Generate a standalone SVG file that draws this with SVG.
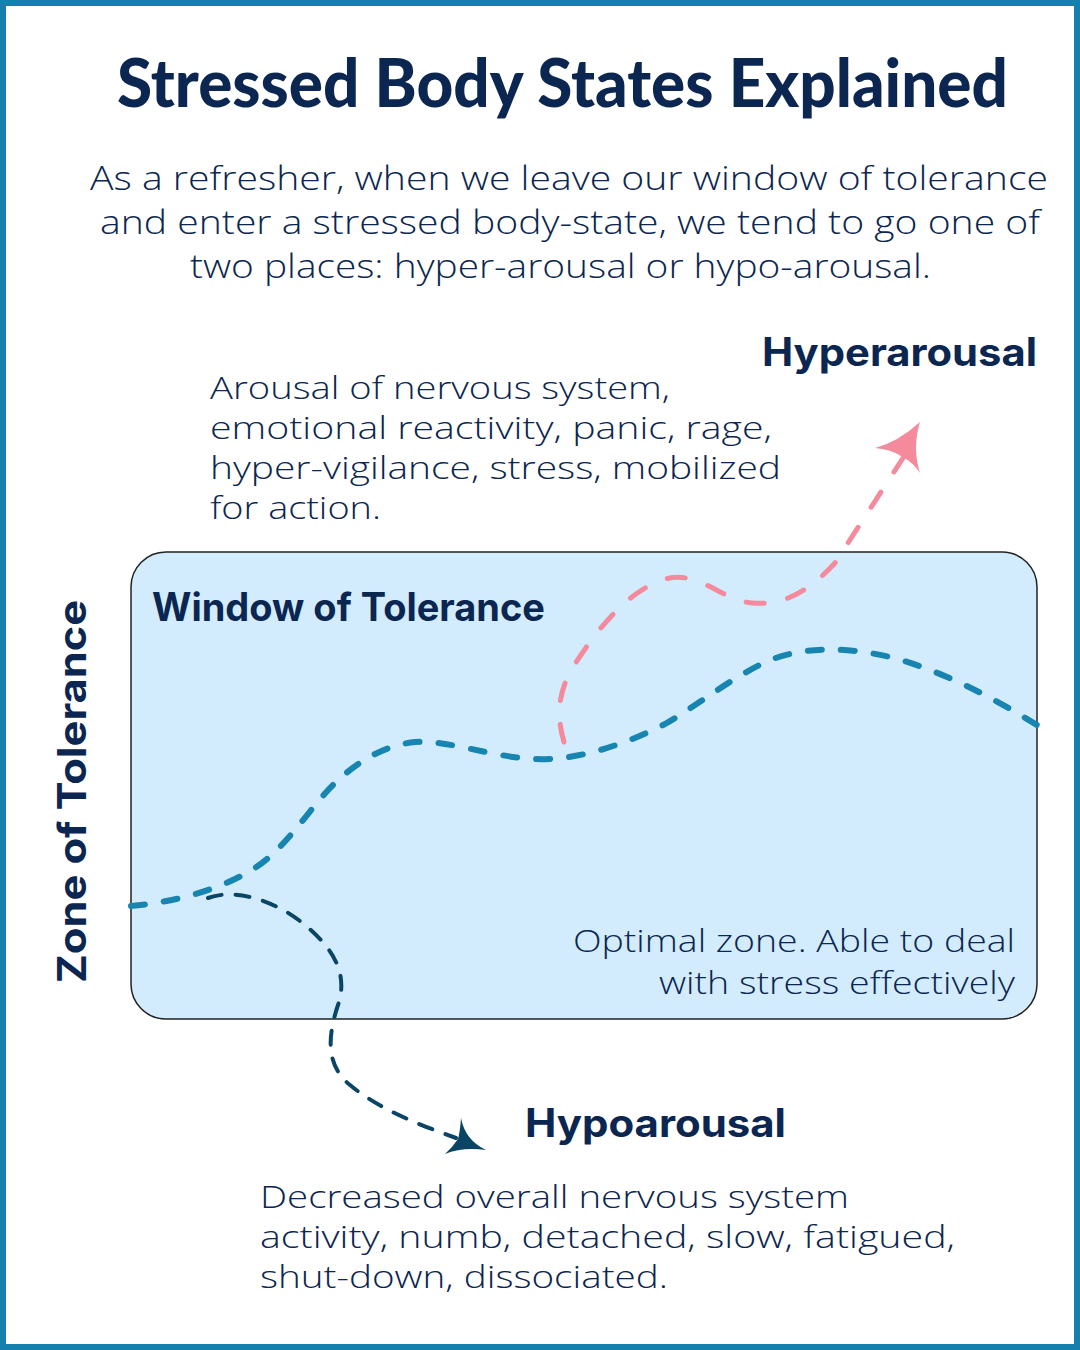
<svg xmlns="http://www.w3.org/2000/svg" width="1080" height="1350" viewBox="0 0 1080 1350">
<style>
.t{fill:#0b2650;font-family:"Open Sans","Liberation Sans",sans-serif;}
.title{font-family:Lato,"Liberation Sans",sans-serif;font-weight:900;font-size:66px;}
.sub{font-size:33px;font-weight:300;}
.body{font-size:31px;font-weight:300;}
.h{font-family:Inter,"Liberation Sans",sans-serif;font-weight:700;font-size:39px;}
.dash{fill:none;stroke-linecap:round;}
</style>
<rect x="3" y="3" width="1074" height="1344" fill="#ffffff" stroke="#1580ad" stroke-width="6"/>
<g id="title"><text class="t title" x="117" y="107" textLength="891" lengthAdjust="spacingAndGlyphs">Stressed Body States Explained</text></g>
<g id="intro">
<text class="t sub" x="90" y="190" textLength="958" lengthAdjust="spacingAndGlyphs">As a refresher, when we leave our window of tolerance</text>
<text class="t sub" x="100" y="234" textLength="940" lengthAdjust="spacingAndGlyphs">and enter a stressed body-state, we tend to go one of</text>
<text class="t sub" x="190" y="278" textLength="741" lengthAdjust="spacingAndGlyphs">two places: hyper-arousal or hypo-arousal.</text>
</g>
<g id="window">
<rect x="131" y="552" width="906" height="467" rx="35" ry="35" fill="#d2ecfd" stroke="#222" stroke-width="1.5"/>
<text class="t h" x="152" y="621" font-size="37" textLength="393" lengthAdjust="spacingAndGlyphs">Window of Tolerance</text>
<text class="t body" x="1015" y="952" font-size="33" text-anchor="end" textLength="442" lengthAdjust="spacingAndGlyphs">Optimal zone. Able to deal</text>
<text class="t body" x="1015" y="994" font-size="33" text-anchor="end" textLength="356" lengthAdjust="spacingAndGlyphs">with stress effectively</text>
</g>
<g id="zone"><text class="t h" transform="translate(86,983) rotate(-90)" x="0" y="0" font-size="41" textLength="383" lengthAdjust="spacingAndGlyphs">Zone of Tolerance</text></g>
<g id="hyper">
<text class="t h" x="762" y="366" textLength="275" lengthAdjust="spacingAndGlyphs">Hyperarousal</text>
<text class="t body" x="210" y="399" textLength="460" lengthAdjust="spacingAndGlyphs">Arousal of nervous system,</text>
<text class="t body" x="210" y="439" textLength="562" lengthAdjust="spacingAndGlyphs">emotional reactivity, panic, rage,</text>
<text class="t body" x="210" y="479" textLength="571" lengthAdjust="spacingAndGlyphs">hyper-vigilance, stress, mobilized</text>
<text class="t body" x="210" y="519" textLength="171" lengthAdjust="spacingAndGlyphs">for action.</text>
</g>
<g id="hypo">
<text class="t h" x="525" y="1137" textLength="261" lengthAdjust="spacingAndGlyphs">Hypoarousal</text>
<text class="t body" x="260" y="1208" textLength="589" lengthAdjust="spacingAndGlyphs">Decreased overall nervous system</text>
<text class="t body" x="260" y="1248" textLength="695" lengthAdjust="spacingAndGlyphs">activity, numb, detached, slow, fatigued,</text>
<text class="t body" x="260" y="1288" textLength="408" lengthAdjust="spacingAndGlyphs">shut-down, dissociated.</text>
</g>
<g id="connectors">
<path class="dash" d="M131,906 C175,902 220,890 255,868 C285,848 305,815 330,788 C355,762 385,745 415,742 C450,740 490,757 535,759 C580,761 630,742 665,724 C700,704 730,678 770,660 C810,645 850,648 890,657 C940,670 990,696 1037,725" stroke="#1785b0" stroke-width="6" stroke-dasharray="14 19"/>
<path class="dash" d="M564,742 C556,715 558,690 575,664 C600,625 630,590 665,579 C700,570 720,600 752,603 C785,606 810,590 835,563 L903,458" stroke="#f48a9c" stroke-width="5" stroke-dasharray="18 24"/>
<path d="M920,422 Q898,442 875,448 Q890,449 901,456 Q914,463 920,473 Q912,448 920,422 Z" fill="#f48a9c"/>
<path class="dash" d="M208,898 C235,888 275,900 305,925 C335,950 348,975 338,1005 C328,1035 325,1065 350,1085 C380,1110 420,1125 456,1138" stroke="#0a4566" stroke-width="4" stroke-dasharray="14 14"/>
<path d="M486,1150 Q465,1140 461,1118 Q460,1132 458,1139 Q452,1148 445,1154 Q462,1147 486,1150 Z" fill="#0a4566"/>
</g>
</svg>
